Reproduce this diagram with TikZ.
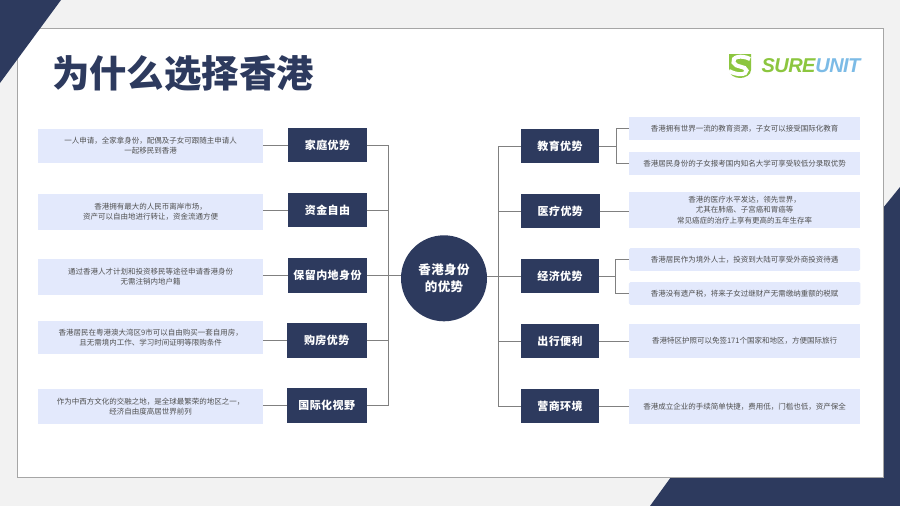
\documentclass[tikz,border=0pt]{standalone}
\usepackage{fontspec}
\setmainfont{Noto Sans CJK SC}
\newfontfamily\logofont{Liberation Sans}
\definecolor{navy}{HTML}{2D3A5E}
\definecolor{pale}{HTML}{E3E9FC}
\definecolor{txt}{HTML}{505050}
\definecolor{wire}{HTML}{808080}
\definecolor{bgc}{HTML}{F2F2F2}
\definecolor{edge}{HTML}{A6A6A6}
\definecolor{lgreen}{HTML}{8CC63F}
\definecolor{lblue}{HTML}{7CBBE6}
\tikzset{
  navybox/.style={fill=navy,text=white,inner sep=0pt,outer sep=0pt,minimum height=34.4pt,font=\fontsize{11}{13}\selectfont\bfseries\addfontfeature{LetterSpace=4}},
  palebox/.style={fill=pale,text=txt,inner sep=0pt,outer sep=0pt,align=center,font=\fontsize{7.5}{9.6}\selectfont},
  wirel/.style={draw=wire,line width=0.9pt},
}
\begin{document}
\begin{tikzpicture}[x=1pt,y=-1pt]
\useasboundingbox (0,0) rectangle (900,506);
\fill[bgc] (0,0) rectangle (900,506);
% corner shapes
\fill[navy] (900,187) -- (900,506) -- (650,506) -- (671,477) -- (883,477) -- (883,208) -- cycle;
\fill[white,draw=edge,line width=0.8pt] (17,28) rectangle (883,477.5);
\fill[navy] (0,0) -- (61,0) -- (0,83) -- cycle;
% title
\node[text=navy,inner sep=0pt,font=\fontsize{37.4}{40}\selectfont\bfseries] (title) at (183,74) {为什么选择香港};
% logo
\fill[lgreen] (729,54) -- (751,54) -- (751,70) .. controls (751,75) and (745,78) .. (740,78) .. controls (735,78) and (729,75) .. (729,70) -- cycle;
\draw[white,line width=4pt] (750,59) .. controls (741,54.5) and (731.5,57) .. (733.5,62.5) .. controls (735.5,68) and (746,65.5) .. (746.5,70.5) .. controls (747,75) and (737,75.5) .. (729,71);
\node[inner sep=0pt,font=\logofont\fontsize{20}{22}\selectfont\bfseries\itshape\addfontfeature{LetterSpace=-3}] (logo) at (811,66) {\textcolor{lgreen}{SURE}\textcolor{lblue}{UNIT}};
% centre
\node[circle,fill=navy,text=white,inner sep=0pt,outer sep=0pt,minimum size=86pt,align=center,font=\fontsize{12.5}{16.5}\selectfont\bfseries\addfontfeature{LetterSpace=3}] (hub) at (444,278.3) {香港身份\\的优势};
% left
\node[navybox,minimum width=78.4pt] (b1) at (327.5,145.1) {家庭优势};
\node[navybox,minimum width=78.4pt] (b2) at (327.5,210.2) {资金自由};
\node[navybox,minimum width=78.4pt] (b3) at (327.5,275.5) {保留内地身份};
\node[navybox,minimum width=80pt] (b4) at (326.7,340.5) {购房优势};
\node[navybox,minimum width=80pt] (b5) at (326.7,405.5) {国际化视野};
\node[palebox,minimum width=224.7pt,minimum height=34pt] (t1) at (150.7,145.7) {一人申请，全家拿身份，配偶及子女可跟随主申请人\\一起移民到香港};
\node[palebox,minimum width=224.7pt,minimum height=35.7pt] (t2) at (150.7,211.8) {香港拥有最大的人民币离岸市场，\\资产可以自由地进行转让，资金流通方便};
\node[palebox,minimum width=224.7pt,minimum height=35.7pt] (t3) at (150.7,276.8) {通过香港人才计划和投资移民等途径申请香港身份\\无需注销内地户籍};
\node[palebox,minimum width=224.7pt,minimum height=32.7pt] (t4) at (150.7,337.7) {香港居民在粤港澳大湾区9市可以自由购买一套自用房，\\且无需境内工作、学习时间证明等限购条件};
\node[palebox,minimum width=224.7pt,minimum height=35.3pt] (t5) at (150.7,406.7) {作为中西方文化的交融之地，是全球最繁荣的地区之一，\\经济自由度高居世界前列};
% right
\node[navybox,minimum width=78pt] (c1) at (560,146) {教育优势};
\node[navybox,minimum width=78.7pt] (c2) at (560.3,211) {医疗优势};
\node[navybox,minimum width=78pt] (c3) at (560,276.2) {经济优势};
\node[navybox,minimum width=78pt] (c4) at (560,341) {出行便利};
\node[navybox,minimum width=78pt] (c5) at (560,406.2) {营商环境};
\node[palebox,minimum width=231pt,minimum height=23pt] (r1) at (744.5,128.5) {香港拥有世界一流的教育资源，子女可以接受国际化教育};
\node[palebox,minimum width=231pt,minimum height=23pt] (r2) at (744.5,163.2) {香港居民身份的子女报考国内知名大学可享受较低分录取优势};
\node[palebox,minimum width=231pt,minimum height=36pt,font=\fontsize{7.5}{10.8}\selectfont] (r3) at (744.5,210) {香港的医疗水平发达，领先世界，\\尤其在肺癌、子宫癌和胃癌等\\常见癌症的治疗上享有更高的五年生存率};
\node[palebox,rounded corners=1.5pt,minimum width=231pt,minimum height=22.7pt] (r4) at (744.5,259.4) {香港居民作为境外人士，投资到大陆可享受外商投资待遇};
\node[palebox,rounded corners=1.5pt,minimum width=231.5pt,minimum height=22.7pt] (r5) at (744.7,293.4) {香港没有遗产税，将来子女过继财产无需缴纳重额的税赋};
\node[palebox,minimum width=231pt,minimum height=34.3pt] (r6) at (744.5,341.2) {香港特区护照可以免签171个国家和地区，方便国际旅行};
\node[palebox,minimum width=231pt,minimum height=35pt] (r7) at (744.5,406.5) {香港成立企业的手续简单快捷，费用低，门槛也低，资产保全};
% trunks and joints
\coordinate (lt) at (388.7,276.7);
\coordinate (rt) at (498.3,276.7);
\coordinate (ej) at (616.3,146);
\coordinate (gj) at (615.3,276.2);
\draw[wirel] (b1.east) -| (lt) |- (b5.east);
\draw[wirel] (b2.east) -- (b2.east -| lt);
\draw[wirel] (b3.east) -- (b3.east -| hub.west);
\draw[wirel] (b4.east) -- (b4.east -| lt);
\draw[wirel] (c1.west) -| (rt) |- (c5.west);
\draw[wirel] (c2.west) -- (c2.west -| rt);
\draw[wirel] (c3.west) -- (c3.west -| hub.east);
\draw[wirel] (c4.west) -- (c4.west -| rt);
\foreach \i in {1,...,5} {\draw[wirel] (t\i.east |- b\i.east) -- (b\i.west);}
\draw[wirel] (c1.east) -- (ej);
\draw[wirel] (r1.west) -| (ej);
\draw[wirel] (r2.west) -| (ej);
\draw[wirel] (c3.east) -- (gj);
\draw[wirel] (r4.west) -| (gj);
\draw[wirel] (r5.west) -| (gj);
\draw[wirel] (c2.east) -- (r3.west |- c2.east);
\draw[wirel] (c4.east) -- (r6.west |- c4.east);
\draw[wirel] (c5.east) -- (r7.west |- c5.east);
\end{tikzpicture}
\end{document}
